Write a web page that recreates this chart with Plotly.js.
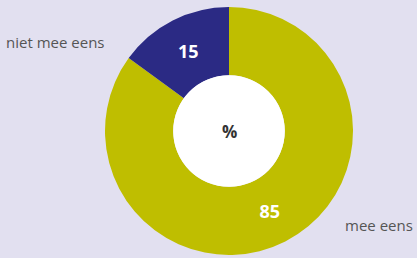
<!DOCTYPE html>
<html><head><meta charset="utf-8">
<script src="https://cdn.plot.ly/plotly-3.0.1.min.js"></script>
<style>html,body{margin:0;padding:0;background:#e2e0f0;}#c{width:417px;height:258px;}</style>
</head><body><div id="c"></div>
<script>
const categories = ['mee eens', 'niet mee eens'];
const values = [85, 15];
const colors = ['#bfbe00', '#2b2a84'];
const centerLabel = '%';

const W = 417, H = 258;
const cx = 229, cy = 131, R = 124, holeFrac = 0.45;
const r = R * holeFrac;

const trace = {
  type: 'pie',
  labels: categories,
  values: values,
  sort: false,
  direction: 'clockwise',
  rotation: 0,
  hole: holeFrac,
  marker: {colors: colors, line: {width: 0}},
  textinfo: 'value',
  textposition: 'inside',
  insidetextorientation: 'horizontal',
  textfont: {family: 'Open Sans', size: 18, color: '#ffffff', weight: 'bold'},
  showlegend: false,
  domain: {x: [(cx - R)/W, (cx + R)/W], y: [(H - cy - R)/H, (H - cy + R)/H]},
  hoverinfo: 'none'
};

const layout = {
  width: W, height: H,
  margin: {l: 0, r: 0, t: 0, b: 0},
  paper_bgcolor: '#e2e0f0',
  plot_bgcolor: '#e2e0f0',
  showlegend: false,
  shapes: [
    {type: 'circle', xref: 'paper', yref: 'paper', layer: 'above',
     x0: (cx - r)/W, x1: (cx + r)/W, y0: (H - cy - r)/H, y1: (H - cy + r)/H,
     fillcolor: '#ffffff', line: {width: 0}}
  ],
  annotations: [
    {text: categories[1], x: 4/W, y: 1 - 42/H, xref: 'paper', yref: 'paper', xanchor: 'left', yanchor: 'middle', showarrow: false, font: {family: 'Open Sans', size: 15, color: '#555555'}},
    {text: categories[0], x: 415/W, y: 1 - 225/H, xref: 'paper', yref: 'paper', xanchor: 'right', yanchor: 'middle', showarrow: false, font: {family: 'Open Sans', size: 15, color: '#555555'}},
    {text: centerLabel, x: cx/W, y: 1 - cy/H, xref: 'paper', yref: 'paper', xanchor: 'center', yanchor: 'middle', showarrow: false, font: {family: 'Open Sans', size: 17, color: '#333333', weight: 'bold'}}
  ]
};

Plotly.newPlot('c', [trace], layout, {displayModeBar: false, staticPlot: true});
</script>
</body></html>
